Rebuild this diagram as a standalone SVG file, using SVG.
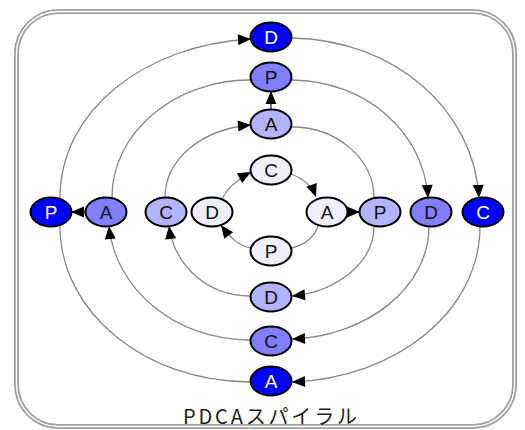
<svg xmlns="http://www.w3.org/2000/svg" width="525" height="430" viewBox="0 0 525 430">
<style>
.frame-o{fill:none;stroke:#a0a0a0;stroke-width:5}
.frame-i{fill:none;stroke:#ffffff;stroke-width:1.4}
.node ellipse{stroke:#000;stroke-width:2}
.node text{font-family:"Liberation Sans",Arial,sans-serif;font-size:19px;text-anchor:middle}
.c1{fill:#eeeeff}.c2{fill:#b3b3ff}.c3{fill:#7f7fff}.c4{fill:#0000ff}
.tk{fill:#111}.tw{fill:#fff}
.e{fill:none;stroke:#888;stroke-width:1.3}
.ea{marker-end:url(#ah)}
.s{fill:none;stroke:#222;stroke-width:1.3;marker-end:url(#ah)}
.title{font-family:"Noto Sans CJK JP","Liberation Sans",sans-serif;font-size:20px;fill:#222}
</style>
<defs>
<marker id="ah" markerUnits="userSpaceOnUse" markerWidth="13" markerHeight="11" refX="13" refY="5.5" orient="auto" overflow="visible">
<path d="M0,0 L13,5.5 L0,11 z" fill="#000"/>
</marker>
</defs>
<rect class="frame-o" x="16.5" y="11.5" width="498" height="415" rx="42"/>
<rect class="frame-i" x="16.5" y="11.5" width="498" height="415" rx="42"/>
<g id="connectors">
<path class="e ea" d="M60,198 C60,110 145,45 251,39"/>
<path class="e ea" d="M292,38 C395,40 474,110 479,198"/>
<path class="e ea" d="M480,226 C480,312 396,378 292,382"/>
<path class="e" d="M250,382 C145,382 60,312 60,226"/>
<path class="e ea" d="M292,80 C367,81 424,133 428,198"/>
<path class="e ea" d="M429,226 C429,288 367,336 292,339"/>
<path class="e ea" d="M250,340 C174,340 115,288 109,226"/>
<path class="e" d="M112,197 C112,133 174,80 250,80"/>
<path class="e ea" d="M374,226 C374,264 335,292 292,296"/>
<path class="e ea" d="M250,296 C206,296 174,264 169,226"/>
<path class="e ea" d="M165,198 C165,158 203,129 251,125"/>
<path class="e" d="M292,127 C337,127 374,159 374,198"/>
<path class="e ea" d="M251,248 C238,246 229,236 221,225"/>
<path class="e ea" d="M222,200 C225,190 238,179 251,172"/>
<path class="e ea" d="M291,174 C302,178 312,186 316,197"/>
<path class="e" d="M318,226 C314,238 303,245 292,248"/>
<path class="s" d="M347,212 L360,212"/>
<path class="s" d="M271,110 L271,91"/>
<path class="s" d="M85,212 L71,212"/>
</g>
<g id="n_p1" class="node"><ellipse class="c1" cx="271" cy="251" rx="20.5" ry="14.5"/><text class="tk" x="271" y="258">P</text></g>
<g id="n_d1" class="node"><ellipse class="c1" cx="212" cy="212" rx="20.5" ry="14.5"/><text class="tk" x="212" y="219">D</text></g>
<g id="n_c1" class="node"><ellipse class="c1" cx="271" cy="170" rx="20.5" ry="14.5"/><text class="tk" x="271" y="177">C</text></g>
<g id="n_a1" class="node"><ellipse class="c1" cx="327" cy="212" rx="20.5" ry="14.5"/><text class="tk" x="327" y="219">A</text></g>
<g id="n_p2" class="node"><ellipse class="c2" cx="380" cy="212" rx="20.5" ry="14.5"/><text class="tk" x="380" y="219">P</text></g>
<g id="n_d2" class="node"><ellipse class="c2" cx="271" cy="297" rx="20.5" ry="14.5"/><text class="tk" x="271" y="304">D</text></g>
<g id="n_c2" class="node"><ellipse class="c2" cx="166" cy="212" rx="20.5" ry="14.5"/><text class="tk" x="166" y="219">C</text></g>
<g id="n_a2" class="node"><ellipse class="c2" cx="271" cy="124" rx="20.5" ry="14.5"/><text class="tk" x="271" y="131">A</text></g>
<g id="n_p3" class="node"><ellipse class="c3" cx="271" cy="77" rx="20.5" ry="14.5"/><text class="tk" x="271" y="84">P</text></g>
<g id="n_d3" class="node"><ellipse class="c3" cx="431" cy="212" rx="20.5" ry="14.5"/><text class="tk" x="431" y="219">D</text></g>
<g id="n_c3" class="node"><ellipse class="c3" cx="271" cy="341" rx="20.5" ry="14.5"/><text class="tk" x="271" y="348">C</text></g>
<g id="n_a3" class="node"><ellipse class="c3" cx="106" cy="212" rx="20.5" ry="14.5"/><text class="tk" x="106" y="219">A</text></g>
<g id="n_p4" class="node"><ellipse class="c4" cx="51" cy="212" rx="20.5" ry="14.5"/><text class="tw" x="51" y="219">P</text></g>
<g id="n_d4" class="node"><ellipse class="c4" cx="271" cy="37" rx="20.5" ry="14.5"/><text class="tw" x="271" y="44">D</text></g>
<g id="n_c4" class="node"><ellipse class="c4" cx="483" cy="212" rx="20.5" ry="14.5"/><text class="tw" x="483" y="219">C</text></g>
<g id="n_a4" class="node"><ellipse class="c4" cx="271" cy="381" rx="20.5" ry="14.5"/><text class="tw" x="271" y="388">A</text></g>
<text class="title" x="183" y="424" textLength="174" lengthAdjust="spacing">PDCAスパイラル</text>
</svg>
